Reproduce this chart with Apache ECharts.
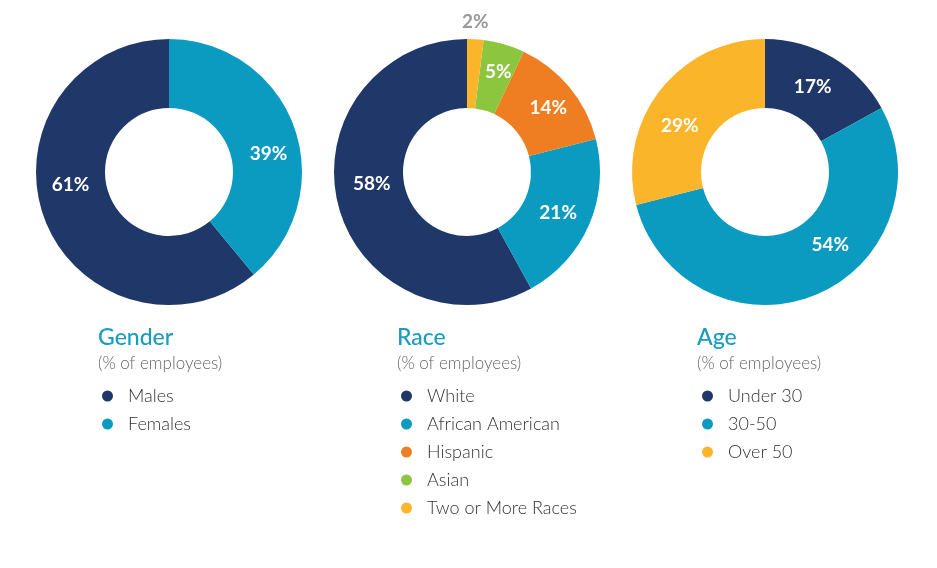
<!DOCTYPE html>
<html>
<head>
<meta charset="utf-8">
<script src="https://cdn.jsdelivr.net/npm/echarts@6/dist/echarts.min.js"></script>
<style>
  html, body { margin: 0; padding: 0; background: #fff; }
  #main { width: 937px; height: 568px; }
</style>
</head>
<body>
<div id="main"></div>
<script>
// values (percent of employees)
var genderNames = ['Males', 'Females'];
var genderValues = [61, 39];
var raceNames = ['White', 'African American', 'Hispanic', 'Asian', 'Two or More Races'];
var raceValues = [58, 21, 14, 5, 2];
var ageNames = ['Under 30', '30-50', 'Over 50'];
var ageValues = [17, 54, 29];

var navy = '#1f3769', teal = '#0b9bc1', orange = '#ef7e23', green = '#8cc63f', yellow = '#fbb52a';
var genderColors = [navy, teal];
var raceColors = [navy, teal, orange, green, yellow];
var ageColors = [navy, teal, yellow];

// small hand nudges of the inside labels, like the original layout
var genderNudge = [[-3, -22], [4, 16]];
var raceNudge = [[3, -13], [-2, 1], [3, 1], [3, -3], null];
var ageNudge = [[-4, 2], [28, -21], [-5, 16]];

var fontFam = 'Lato, "Open Sans", sans-serif';

function buildData(names, values, colors) {
    var res = [];
    for (var i = 0; i < names.length; i++) {
        res.push({ name: names[i], value: values[i], itemStyle: { color: colors[i] } });
    }
    return res;
}

function donut(cx, names, values, colors, clockwise, nudge) {
    return {
        type: 'pie',
        center: [cx, 172],
        radius: [64, 133],
        clockwise: clockwise,
        startAngle: 90,
        silent: true,
        label: {
            show: true,
            position: 'inside',
            formatter: '{c}%',
            color: '#fff',
            fontFamily: fontFam,
            fontWeight: 'bold',
            fontSize: 19
        },
        labelLine: { show: false },
        labelLayout: function (params) {
            var n = nudge[params.dataIndex];
            if (n) return { dx: n[0], dy: n[1] };
        },
        itemStyle: { borderWidth: 0 },
        data: buildData(names, values, colors)
    };
}

function titleAt(left, text) {
    return {
        text: text,
        subtext: '(% of employees)',
        left: left,
        top: 326,
        padding: 0,
        itemGap: 6,
        textStyle: { color: '#1a9cbe', fontFamily: fontFam, fontWeight: 500, fontSize: 23 },
        subtextStyle: { color: '#666', fontFamily: fontFam, fontWeight: 300, fontSize: 17 }
    };
}

function legendAt(left, names) {
    return {
        data: names,
        orient: 'vertical',
        left: left,
        top: 387,
        padding: 0,
        icon: 'circle',
        itemWidth: 11,
        itemHeight: 11,
        itemGap: 10,
        selectedMode: false,
        textStyle: { color: '#333', fontFamily: fontFam, fontWeight: 300, fontSize: 18, padding: [0, 0, 0, 10] }
    };
}

var chart = echarts.init(document.getElementById('main'));

var raceSeries = donut(467, raceNames, raceValues, raceColors, false, raceNudge);
// the thin "Two or More Races" slice carries its label above the ring, in gray
raceSeries.data[4].label = { color: '#9a9a9a' };
raceSeries.labelLayout = function (params) {
    if (params.dataIndex === 4) {
        return {
            x: params.rect.x + params.rect.width / 2,
            y: params.rect.y - 17,
            align: 'center',
            verticalAlign: 'middle'
        };
    }
    var n = raceNudge[params.dataIndex];
    if (n) return { dx: n[0], dy: n[1] };
};

chart.setOption({
    animation: false,
    backgroundColor: '#fff',
    title: [titleAt(98, 'Gender'), titleAt(397, 'Race'), titleAt(697, 'Age')],
    legend: [legendAt(102, genderNames), legendAt(401, raceNames), legendAt(702, ageNames)],
    series: [
        donut(169, genderNames, genderValues, genderColors, false, genderNudge),
        raceSeries,
        donut(765, ageNames, ageValues, ageColors, true, ageNudge)
    ]
});
</script>
</body>
</html>
